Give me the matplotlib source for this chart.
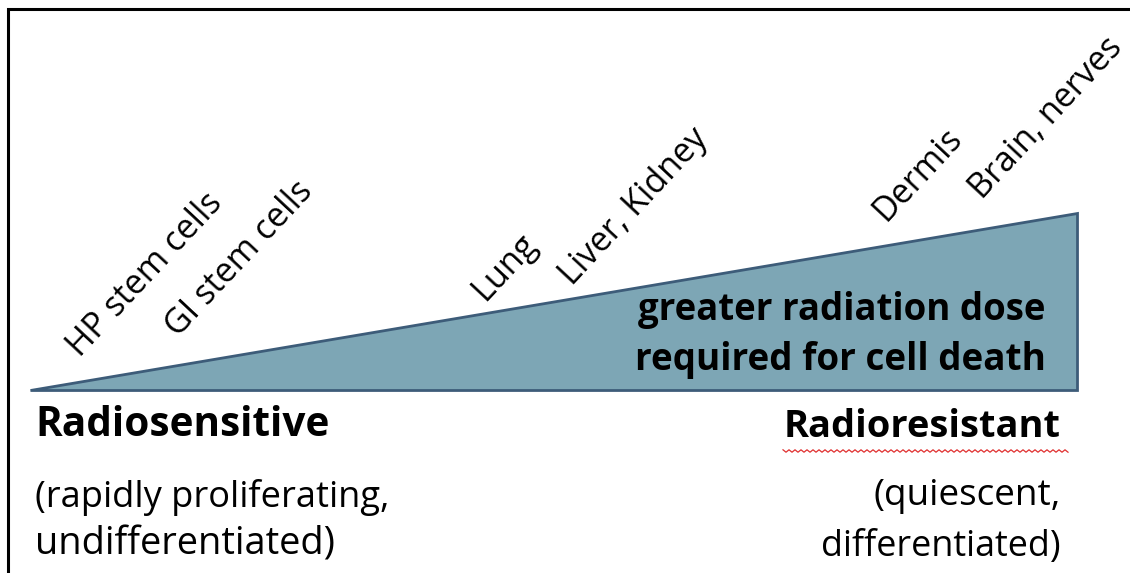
import matplotlib
matplotlib.use('Agg')
import matplotlib.pyplot as plt
import numpy as np

# tissues along the wedge, from most to least radiosensitive
tissues = ['HP stem cells', 'GI stem cells', 'Lung', 'Liver, Kidney', 'Dermis', 'Brain, nerves']
tissue_x = [80, 178, 485, 572, 886, 982]
tissue_y = [358, 338, 302, 287, 222, 200]

# wedge corners (tip, bottom right, top right), in pixels
wedge_x = [30, 1077, 1077]
wedge_y = [390, 390, 213]

plt.rcParams['font.family'] = ['Open Sans', 'DejaVu Sans']

fig = plt.figure(figsize=(11.3, 5.73), dpi=100)
ax = fig.add_axes([0, 0, 1, 1])
ax.set_xlim(0, 1130)
ax.set_ylim(573, 0)
ax.axis('off')
renderer = fig.canvas.get_renderer()


def fit(txt, width):
    # scale font so the text spans about `width` pixels, like the original
    w = txt.get_window_extent(renderer).width
    txt.set_fontsize(txt.get_fontsize() * width / w)


# frame (only left and top edges visible in the crop)
ax.plot([8, 8, 1130], [573, 9, 9], color='black', lw=2.2, solid_joinstyle='miter')

ax.fill(wedge_x, wedge_y, facecolor='#7da6b5', edgecolor='#3d5c79', lw=2)

for name, x, y in zip(tissues, tissue_x, tissue_y):
    ax.text(x, y, name, rotation=47, rotation_mode='anchor',
            ha='left', va='baseline', fontsize=24.5, color='black')

t = ax.text(1046, 320, 'greater radiation dose', ha='right', va='baseline',
            fontsize=24, fontweight='bold')
fit(t, 408)
t = ax.text(1046, 370, 'required for cell death', ha='right', va='baseline',
            fontsize=24, fontweight='bold')
fit(t, 412)

t = ax.text(35, 436, 'Radiosensitive', ha='left', va='baseline', fontsize=26, fontweight='bold')
fit(t, 295)
t = ax.text(1061, 437, 'Radioresistant', ha='right', va='baseline', fontsize=26, fontweight='bold')
fit(t, 277)

t = ax.text(35, 507, '(rapidly proliferating,', ha='left', va='baseline', fontsize=22)
fit(t, 355)
t = ax.text(35, 555, 'undifferentiated)', ha='left', va='baseline', fontsize=22)
fit(t, 300)
t = ax.text(1061, 505, '(quiescent,', ha='right', va='baseline', fontsize=22)
fit(t, 187)
t = ax.text(1061, 556, 'differentiated)', ha='right', va='baseline', fontsize=22)
fit(t, 240)

# spell-check squiggle under "Radioresistant"
sq_x = np.arange(783, 1069, 3)
sq_y = 451 + np.where(np.arange(len(sq_x)) % 2 == 0, -1.2, 1.2)
ax.plot(sq_x, sq_y, color='#e03030', lw=0.9)

fig.savefig('out.png', dpi=100)
